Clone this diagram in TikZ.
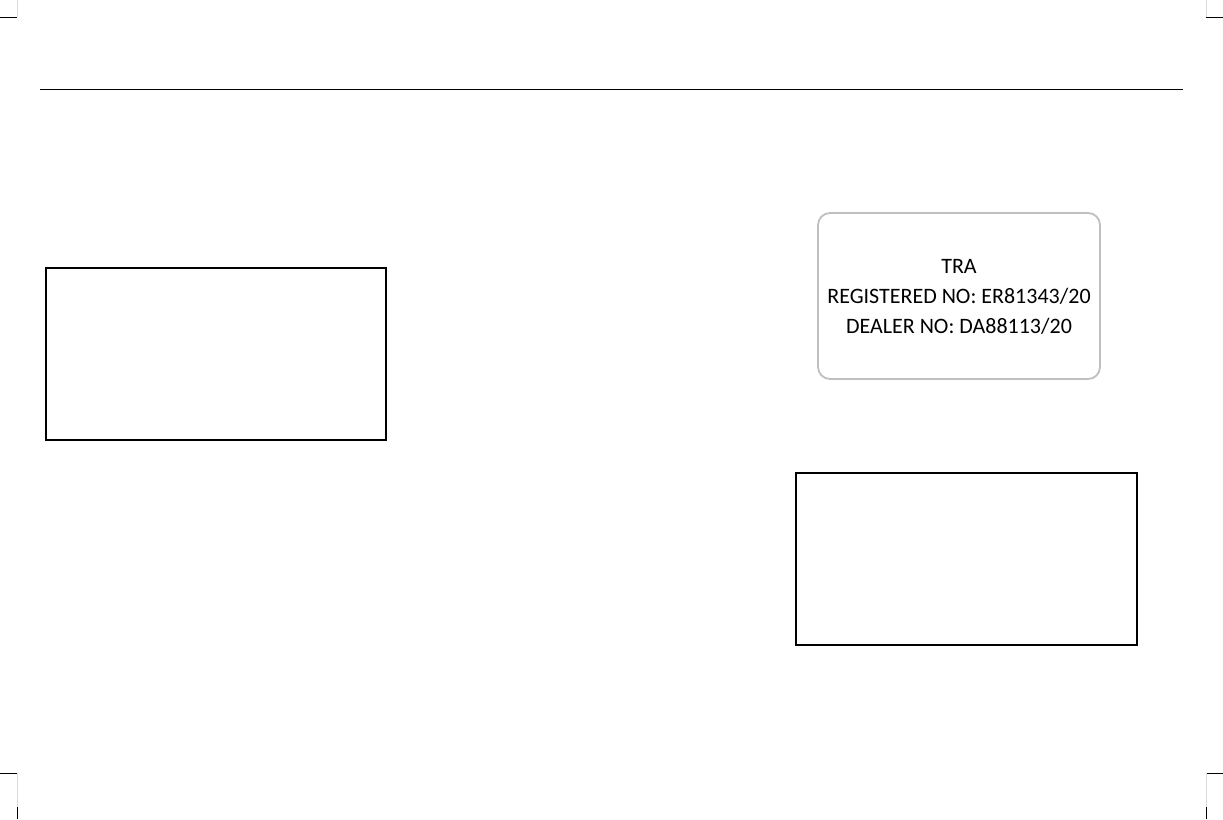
\documentclass[tikz,border=0pt]{standalone}
\usepackage{fontspec}
\setmainfont{Carlito}
\begin{document}
\begin{tikzpicture}[x=1pt,y=-1pt,
  blank/.style={draw=black,line width=1.8pt},
  label/.style={draw=black!25,line width=1.8pt,rounded corners=12pt},
  crop/.style={line width=1pt}]
\useasboundingbox (0,0) rectangle (1223,819);
% crop marks
\draw[crop] (0,17) -- (17,17);
\draw[crop,black!15] (17,0) -- (17,17);
\draw[crop] (0,773) -- (17,773);
\draw[crop,black!15] (17,773) -- (17,819);
\draw[crop] (17,807) -- (17,819);
\draw[crop] (1223,17) -- (1206,17);
\draw[crop,black!15] (1206,0) -- (1206,17);
\draw[crop] (1223,773) -- (1206,773);
\draw[crop,black!15] (1206,773) -- (1206,819);
\draw[crop] (1206,807) -- (1206,819);
% header rule
\draw[line width=1pt] (40,89) -- (1183,89);
% boxes
\node[blank,minimum width=340pt,minimum height=172pt,inner sep=0pt] (b1) at (216,354) {};
\node[blank,minimum width=341pt,minimum height=172pt,inner sep=0pt] (b2) at (966.5,559) {};
\node[label,minimum width=282pt,minimum height=166pt,inner sep=0pt] (lab) at (959,296) {};
\node[font=\fontsize{22}{30}\selectfont,align=center] (t) at (959,297) {TRA\\REGISTERED NO: ER81343/20\\DEALER NO: DA88113/20};
\end{tikzpicture}
\end{document}
